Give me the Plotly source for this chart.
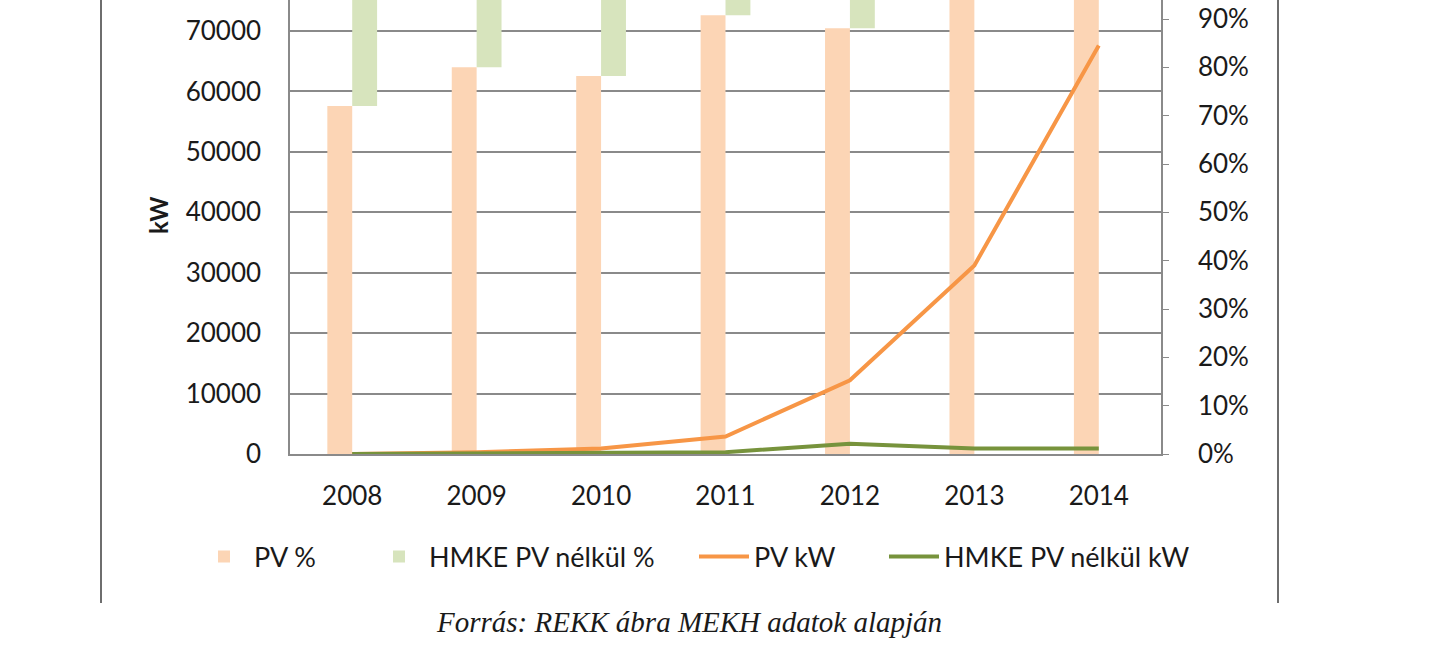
import plotly.graph_objects as go

years = ["2008", "2009", "2010", "2011", "2012", "2013", "2014"]
pv_pct = [0.72, 0.80, 0.782, 0.908, 0.881, 0.97, 0.98]
hmke_pct = [round(1 - v, 3) for v in pv_pct]
pv_kw = [0, 300, 900, 2900, 12200, 31200, 67600]
hmke_kw = [0, 50, 200, 300, 1700, 900, 900]

W, H = 1432, 668
L, R, T, B = 290, 1161, 0, 454  # plot area in pixels

def px(x):
    return (x - L) / (R - L)

def py(y):
    return (B - y) / (B - T)

FONT = "Lato"
GRAY = "#8a8a8a"

fig = go.Figure()
fig.add_trace(go.Bar(x=years, y=pv_pct, name="PV %", marker_color="#FCD5B5",
                     marker_line_width=0, offset=-0.2, width=0.2, yaxis="y",
                     legend="legend"))
fig.add_trace(go.Bar(x=years, y=hmke_pct, base=pv_pct, name="HMKE PV nélkül %",
                     marker_color="#D7E4BD", marker_line_width=0, offset=0, width=0.2,
                     yaxis="y", legend="legend2"))
fig.add_trace(go.Scatter(x=years, y=pv_kw, name="PV kW", mode="lines",
                         line=dict(color="#F79646", width=4), yaxis="y2",
                         legend="legend3"))
fig.add_trace(go.Scatter(x=years, y=hmke_kw, name="HMKE PV nélkül kW", mode="lines",
                         line=dict(color="#77933C", width=4), yaxis="y2",
                         legend="legend4"))

def leg(text_start):
    return dict(orientation="h", x=px(text_start - 61), xanchor="left", y=py(557),
                yanchor="middle", font=dict(size=27), bgcolor="rgba(0,0,0,0)",
                itemwidth=50)

fig.update_layout(
    width=W, height=H,
    margin=dict(l=L, r=W - R, t=T, b=H - B, pad=0),
    paper_bgcolor="white", plot_bgcolor="white",
    barmode="overlay",
    font=dict(family=FONT, size=26, color="#1a1a1a"),
    xaxis=dict(type="category", range=[-0.5, 6.5], showline=True, linecolor=GRAY,
               linewidth=1.5, ticks="", showgrid=False, ticklabelstandoff=18,
               tickfont=dict(size=26)),
    yaxis=dict(side="right", range=[0, 0.9393], dtick=0.1, tickformat=".0%",
               showgrid=False, zeroline=False, showline=True, linecolor=GRAY,
               linewidth=1.5, ticks="outside", ticklen=6, tickcolor=GRAY,
               ticklabelstandoff=24, tickfont=dict(size=26)),
    yaxis2=dict(side="left", overlaying="y", range=[0, 75130], dtick=10000,
                tickformat="d",
                showgrid=True, gridcolor=GRAY, gridwidth=1.5, zeroline=False,
                showline=True, linecolor=GRAY, linewidth=1.5, ticks="",
                ticklabelstandoff=22, tickfont=dict(size=26)),
    legend=leg(255),
    legend2=leg(430),
    legend3=leg(755),
    legend4=leg(945),
    showlegend=True,
)

fig.add_annotation(text="<b>kW</b>", xref="paper", yref="paper", x=px(158), y=py(215),
                   textangle=-90, showarrow=False, xanchor="center", yanchor="middle",
                   font=dict(family=FONT, size=24, color="#1a1a1a"))

for xp in (101, 1278):
    fig.add_shape(type="line", xref="paper", yref="paper", x0=px(xp), x1=px(xp),
                  y0=py(0), y1=py(603), line=dict(color="#6e6e6e", width=2))

fig.add_annotation(text="<i>Forrás: REKK ábra MEKH adatok alapján</i>", xref="paper",
                   yref="paper", x=px(689), y=py(622), showarrow=False,
                   xanchor="center", yanchor="middle",
                   font=dict(family="Liberation Serif", size=29, color="#1a1a1a"))

fig.write_html("out.html")
